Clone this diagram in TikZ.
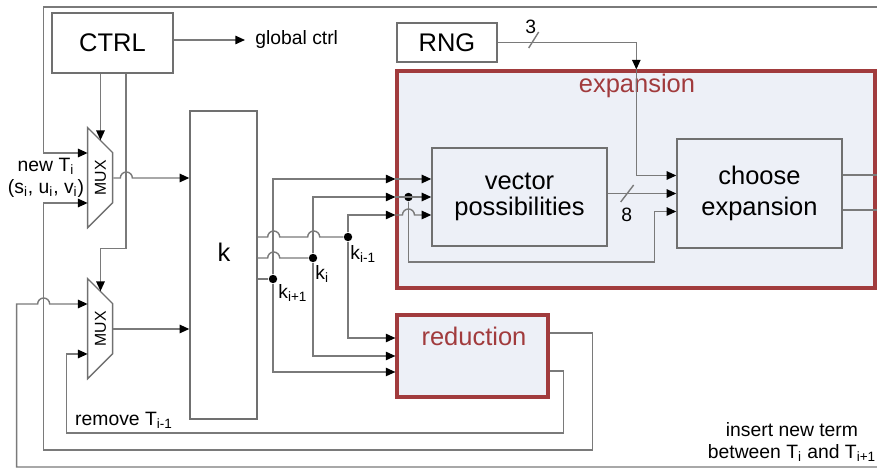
\documentclass[tikz,border=0pt]{standalone}
\usepackage{fontspec}
\setmainfont{Liberation Sans}
\usetikzlibrary{arrows.meta,calc}
\definecolor{wiregray}{HTML}{7A7A7A}
\definecolor{edgegray}{HTML}{707070}
\definecolor{brick}{HTML}{A13B3D}
\definecolor{pale}{HTML}{EDF0F7}

\begin{document}
\begin{tikzpicture}[
  x=0.02cm,y=-0.02cm,
  every node/.style={font=\fontsize{11}{12.5}\selectfont,align=center,inner sep=0pt},
  big/.style={font=\fontsize{14.5}{17.5}\selectfont},
  blk/.style={draw=edgegray,line width=0.8pt,big},
  stage/.style={draw=brick,line width=1.8pt,fill=pale},
  mux/.style={minimum width=0.5cm,minimum height=2cm,font=\fontsize{9}{9}\selectfont},
  junction/.style={circle,fill=black,minimum size=4.8pt},
  wire/.style={draw=wiregray,line width=0.8pt},
  arr/.style={wire,-{Triangle[length=5.5pt,width=4.8pt,color=black]}}
]
\useasboundingbox (0,0) rectangle (877,469);

% frames
\node[stage,minimum width=9.56cm,minimum height=4.34cm] (expbox) at (636,179.5) {};
\node[big,text=brick] (exptitle) at (637,86) {expansion};
\node[stage,minimum width=3.02cm,minimum height=1.64cm] (red) at (472.5,356) {};
\node[big,text=brick] (redtitle) at (474,336) {reduction};

% blocks
\node[blk,minimum width=2.42cm,minimum height=1.2cm] (ctrl) at (112.5,43) {CTRL};
\node[blk,minimum width=2cm,minimum height=0.78cm] (rng) at (447,42.5) {RNG};
\node[blk,fill=pale,minimum width=3.5cm,minimum height=1.96cm,
      font=\fontsize{14.5}{15}\selectfont] (vec) at (519.5,197) {vector\\possibilities};
\node[blk,fill=pale,minimum width=3.3cm,minimum height=2.18cm] (choose) at (759.5,193.5) {choose\\expansion};
\node[blk,minimum width=1.34cm,minimum height=6.16cm] (kreg) at (223.5,265) {};
\node[big] (klbl) at (224,252) {k};
\node[mux] (mux1) at (100.5,178) {\rotatebox{90}{MUX}};
\node[mux] (mux2) at (100.5,329) {\rotatebox{90}{MUX}};
\draw[edgegray,line width=0.8pt] (mux1.north west) -- ++(0.5cm,-0.5cm) -- ++(0,-1cm) -- ++(-0.5cm,-0.5cm) -- cycle;
\draw[edgegray,line width=0.8pt] (mux2.north west) -- ++(0.5cm,-0.5cm) -- ++(0,-1cm) -- ++(-0.5cm,-0.5cm) -- cycle;

% control
\draw[arr] (ctrl.south -| mux1) -- ($(mux1.north)+(0,-0.25cm)$);
\draw[arr] ([xshift=0.27cm]ctrl.south) -- ++(0,-3.5cm) -| ($(mux2.north)+(0,-0.25cm)$);
\node[anchor=west] (gctrl) at (255,40) {global ctrl};
\draw[arr] (ctrl.east |- gctrl) -- ([xshift=-0.2cm]gctrl.west);

% feedback into the multiplexers
\coordinate (topin) at (877,7);
\coordinate (botin) at (877,467);
\draw[arr] (topin) -| ($(mux1.west)+(-0.88cm,0.5cm)$) -- ($(mux1.west)+(0,0.5cm)$);
\draw[arr] ([yshift=0.46cm]red.east) -- ++(0.86cm,0) -- ++(0,-2.34cm)
  -| ($(mux1.west)+(-0.88cm,-0.5cm)$) -- ($(mux1.west)+(0,-0.5cm)$);
\draw[arr] ([yshift=-0.3cm]red.east) -- ++(0.28cm,0) -- ++(0,-1.24cm)
  -| ($(mux2.west)+(-0.42cm,-0.5cm)$) -- ($(mux2.west)+(0,-0.5cm)$);
\draw[arr] (botin) -| ($(mux2.west)+(-1.42cm,0.5cm)$) -- ++(0.42cm,0)
  arc[start angle=180,end angle=0,radius=0.12cm] -- ($(mux2.west)+(0,0.5cm)$);
\node (newlbl) at (46,178) {new T\textsubscript{i}\\(s\textsubscript{i}, u\textsubscript{i}, v\textsubscript{i})};
\node (rmlbl) at (124,420) {remove T\textsubscript{i-1}};
\node (inslbl) at (792,442) {insert new term\\between T\textsubscript{i} and T\textsubscript{i+1}};

% multiplexers into k
\draw[arr] (mux1.east) -- ++(0.14cm,0) arc[start angle=180,end angle=0,radius=0.12cm] -- (kreg.west |- mux1.east);
\draw[arr] (mux2.east) -- (kreg.west |- mux2.east);

% taps of k
\node[junction] (kim1) at (348,237) {};
\node[junction] (ki) at (313,258) {};
\node[junction] (kip1) at (273,279) {};
\node[anchor=north west] (kim1lbl) at ($(kim1)+(0.04cm,-0.16cm)$) {k\textsubscript{i-1}};
\node[anchor=north west] (kilbl) at ($(ki)+(0.04cm,-0.14cm)$) {k\textsubscript{i}};
\node[anchor=north west] (kip1lbl) at ($(kip1)+(0.1cm,-0.1cm)$) {k\textsubscript{i+1}};
\draw[wire] (kreg.east |- kim1) -- ++(0.2cm,0) arc[start angle=180,end angle=0,radius=0.12cm]
  -- ++(0.56cm,0) arc[start angle=180,end angle=0,radius=0.12cm] -- (kim1);
\draw[wire] (kreg.east |- ki) -- ++(0.2cm,0) arc[start angle=180,end angle=0,radius=0.12cm] -- (ki);
\draw[wire] (kreg.east |- kip1) -- (kip1);

\coordinate (expin) at (expbox.west |- vec.west);
\draw[arr] (kip1) |- ($(expin)+(0,0.36cm)$);
\draw[arr] (ki) |- (expin);
\draw[arr] (kim1) |- ($(expin)+(0,-0.36cm)$);
\draw[arr] (kip1) |- ($(red.west)+(0,-0.32cm)$);
\draw[arr] (ki) |- (red.west);
\draw[arr] (kim1) |- ($(red.west)+(0,0.36cm)$);

% inside expansion
\node[junction] (ksplit) at ($(expin)+(0.26cm,0)$) {};
\draw[arr] ($(expin)+(0,0.36cm)$) -- ($(vec.west)+(0,0.36cm)$);
\draw[arr] (expin) -- (vec.west);
\draw[arr] ($(expin)+(0,-0.36cm)$) -- ++(0.14cm,0) arc[start angle=180,end angle=0,radius=0.12cm]
  -- ($(vec.west)+(0,-0.36cm)$);
\draw[arr] (ksplit) -- ++(0,-1.3cm) -| ($(choose.west)+(-0.44cm,-0.36cm)$) -- ($(choose.west)+(0,-0.36cm)$);
\draw[arr] (vec.east |- choose.west) -- (choose.west);
\draw[wire] ($(vec.east |- choose.west)+(0.26cm,-0.17cm)$) -- ++(0.26cm,0.34cm);
\node (w8) at ($(vec.east |- choose.west)+(0.38cm,-0.43cm)$) {8};

% random source
\coordinate (rngin) at ($(expbox.north -| choose.west)+(-0.8cm,0)$);
\draw[arr] (rng.east) -| (rngin);
\draw[arr] (rngin) |- ($(choose.west)+(0,0.36cm)$);
\draw[wire] ($(rng.east)+(0.62cm,-0.11cm)$) -- ++(0.2cm,0.32cm);
\node (w3) at ($(rng.east)+(0.66cm,0.31cm)$) {3};

% outputs
\coordinate (outA) at (877,175);
\coordinate (outB) at (877,210);
\draw[wire] (choose.east |- outA) -- (outA);
\draw[wire] (choose.east |- outB) -- (outB);
\end{tikzpicture}
\end{document}
